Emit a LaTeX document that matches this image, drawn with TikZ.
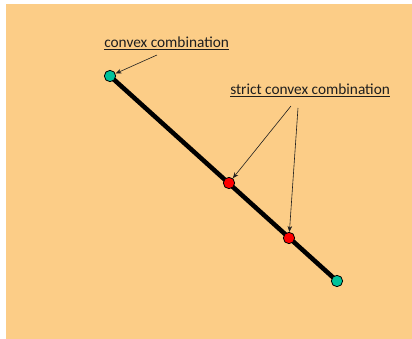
\documentclass[tikz,border=0pt]{standalone}
\usepackage{fontspec}
\setmainfont{Carlito}
\usetikzlibrary{arrows.meta, backgrounds}
\definecolor{cpaper}{HTML}{FCCD87}
\definecolor{cteal}{HTML}{00C29A}
\definecolor{cred}{HTML}{FF0000}
\definecolor{ctext}{HTML}{1E1E1E}
\tikzset{
  every picture/.style={font=\fontsize{11.5}{13.5}\selectfont},
  dot/.style={circle, draw=black, line width=0.6pt, fill=#1, minimum size=8.5pt, inner sep=0pt},
  dot/.default=cteal,
  label/.style={text=ctext, inner sep=0pt, anchor=base west},
  pointer/.style={-{Stealth[length=4.5pt, width=3.5pt]}, draw=ctext, line width=0.45pt},
}

\begin{document}
\begin{tikzpicture}[x=0.75pt, y=-0.75pt]
  \useasboundingbox (0,0) rectangle (412,339);
  % the points
  \node[dot] (g1) at (110,76) {};
  \node[dot] (g2) at (337,281) {};
  \node[dot=cred] (r1) at (229,183) {};
  \node[dot=cred] (r2) at (289,238) {};
  % paper and segment behind them
  \begin{scope}[on background layer]
    \fill[cpaper] (6,4) rectangle (412,339);
    \draw[line width=3.4pt] (g1.center) -- (g2.center);
  \end{scope}
  % labels
  \node[label] (conv) at (104,47.5) {\underline{convex combination}};
  \node[label] (strict) at (230,94.5) {\underline{strict convex combination}};
  % pointers
  \coordinate (c1) at (157,55);
  \coordinate (s1) at (291,106);
  \coordinate (s2) at (298,108);
  \draw[pointer] (c1) -- (g1);
  \draw[pointer] (s1) -- (r1);
  \draw[pointer] (s2) -- (r2);
\end{tikzpicture}
\end{document}
